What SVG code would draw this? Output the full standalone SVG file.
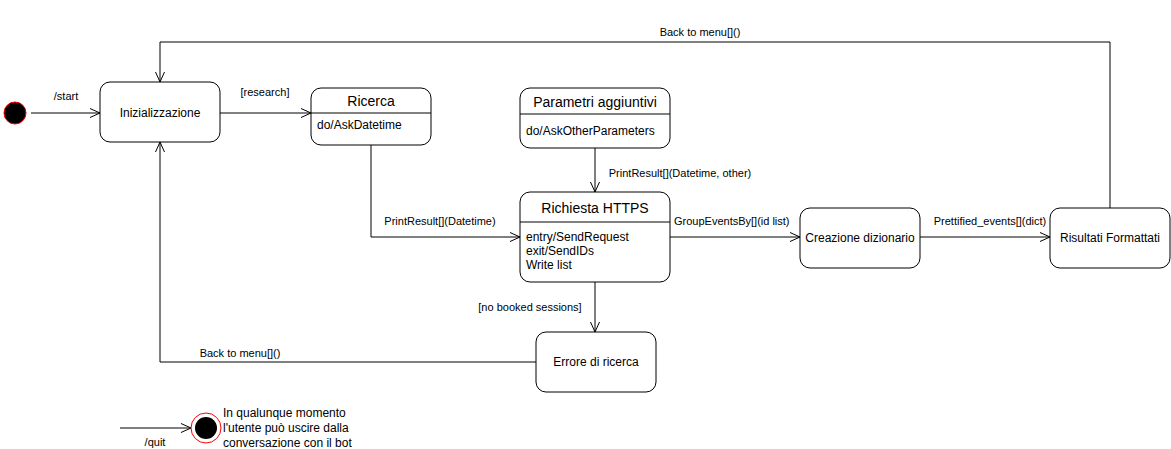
<svg xmlns="http://www.w3.org/2000/svg" width="1171" height="449" viewBox="0 0 1171 449">
<defs>
<marker id="arr" viewBox="0 0 10 10" refX="10" refY="5" markerWidth="10" markerHeight="10" markerUnits="userSpaceOnUse" orient="auto">
<path d="M0,0.5 L10,5 L0,9.5" fill="none" stroke="#000" stroke-width="1"/>
</marker>
</defs>
<style>
.n{fill:#fff;stroke:#000;stroke-width:1}
.t{font-family:"Liberation Sans",Arial,sans-serif;font-size:12px;fill:#000}
.h{font-family:"Liberation Sans",Arial,sans-serif;font-size:14px;fill:#000}
.l{font-family:"Liberation Sans",Arial,sans-serif;font-size:11px;fill:#000}
.c{fill:none;stroke:#000;stroke-width:1;marker-end:url(#arr)}
</style>
<rect width="1171" height="449" fill="#fff"/>
<g id="connectors">
<path class="c" d="M31,113 L100,113"/>
<text class="l" x="66" y="100" text-anchor="middle">/start</text>
<path class="c" d="M220,113 L311,113"/>
<text class="l" x="265" y="96" text-anchor="middle">[research]</text>
<path class="c" d="M371,145 L371,237 L520,237"/>
<text class="l" x="440" y="225" text-anchor="middle">PrintResult[](Datetime)</text>
<path class="c" d="M595,148 L595,192"/>
<text class="l" x="680" y="177" text-anchor="middle">PrintResult[](Datetime, other)</text>
<path class="c" d="M670,237 L800,237"/>
<text class="l" x="674" y="225">GroupEventsBy[](id list)</text>
<path class="c" d="M920,237 L1050,237"/>
<text class="l" x="990" y="225" text-anchor="middle">Prettified_events[](dict)</text>
<path class="c" d="M1110,208 L1110,42 L160,42 L160,82"/>
<text class="l" x="700" y="36" text-anchor="middle">Back to menu[]()</text>
<path class="c" d="M595,282 L595,332"/>
<text class="l" x="530" y="311" text-anchor="middle">[no booked sessions]</text>
<path class="c" d="M536,362 L160,362 L160,142"/>
<text class="l" x="240" y="357" text-anchor="middle">Back to menu[]()</text>
<path class="c" d="M120,428 L191,428"/>
<text class="l" x="155" y="446" text-anchor="middle">/quit</text>
</g>
<g id="start">
<circle cx="15" cy="113" r="11" fill="#000" stroke="#ff0000" stroke-width="1"/>
</g>
<g id="inizializzazione">
<rect class="n" x="100" y="82" width="120" height="60" rx="10"/>
<text class="t" x="160" y="117" text-anchor="middle">Inizializzazione</text>
</g>
<g id="ricerca">
<rect class="n" x="311" y="88" width="120" height="57" rx="10"/>
<line x1="311" y1="113" x2="431" y2="113" stroke="#000"/>
<text class="h" x="371" y="106" text-anchor="middle">Ricerca</text>
<text class="t" x="317" y="129">do/AskDatetime</text>
</g>
<g id="parametri">
<rect class="n" x="520" y="88" width="150" height="60" rx="10"/>
<line x1="520" y1="114" x2="670" y2="114" stroke="#000"/>
<text class="h" x="595" y="107" text-anchor="middle">Parametri aggiuntivi</text>
<text class="t" x="526" y="135">do/AskOtherParameters</text>
</g>
<g id="richiesta">
<rect class="n" x="520" y="192" width="150" height="90" rx="10"/>
<line x1="520" y1="222" x2="670" y2="222" stroke="#000"/>
<text class="h" x="595" y="213" text-anchor="middle">Richiesta HTTPS</text>
<text class="t" x="526" y="241">entry/SendRequest</text>
<text class="t" x="526" y="255">exit/SendIDs</text>
<text class="t" x="526" y="269">Write list</text>
</g>
<g id="creazione">
<rect class="n" x="800" y="208" width="120" height="60" rx="10"/>
<text class="t" x="860" y="242" text-anchor="middle">Creazione dizionario</text>
</g>
<g id="risultati">
<rect class="n" x="1050" y="208" width="120" height="60" rx="10"/>
<text class="t" x="1110" y="242" text-anchor="middle">Risultati Formattati</text>
</g>
<g id="errore">
<rect class="n" x="536" y="332" width="120" height="60" rx="10"/>
<text class="t" x="596" y="366" text-anchor="middle">Errore di ricerca</text>
</g>
<g id="final">
<circle cx="206" cy="428" r="15" fill="#fff" stroke="#ff0000" stroke-width="1"/>
<circle cx="206" cy="428" r="11" fill="#000"/>
</g>
<g id="note">
<text class="t" x="223" y="417">In qualunque momento</text>
<text class="t" x="223" y="432">l'utente può uscire dalla</text>
<text class="t" x="223" y="447">conversazione con il bot</text>
</g>
</svg>
